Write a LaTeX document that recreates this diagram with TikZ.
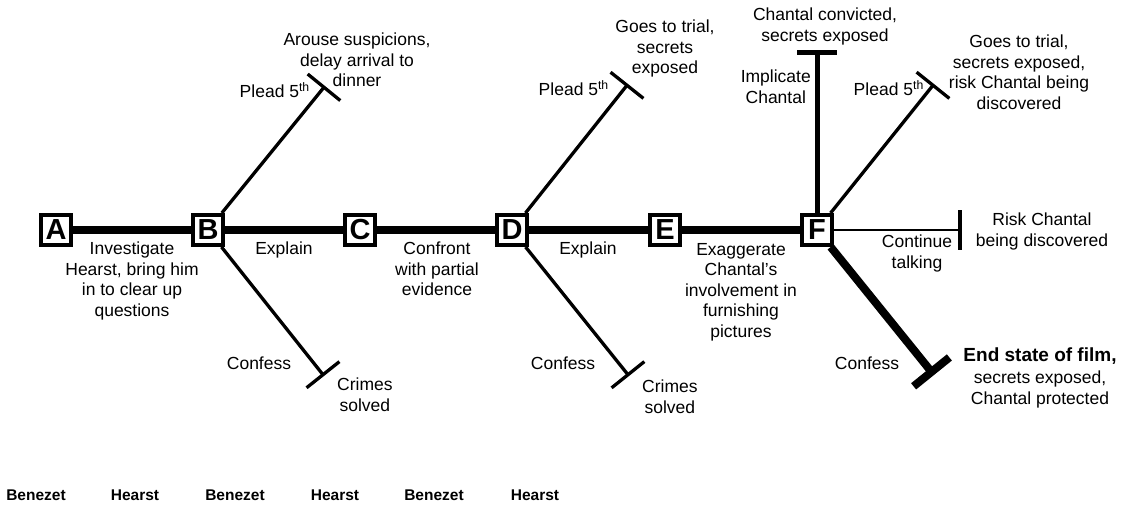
\documentclass[tikz,border=0pt]{standalone}
\usepackage{fontspec}
\setmainfont{Liberation Sans}
\usetikzlibrary{arrows.meta}

\begin{document}
\begin{tikzpicture}[x=1pt, y=-1pt,
  stagebox/.style={draw, line width=4pt, fill=white, minimum size=30pt, inner sep=0pt, font=\fontsize{29}{29}\selectfont\bfseries},
  lbl/.style={align=center, inner sep=0pt, font=\fontsize{17.5}{20.5}\selectfont},
  who/.style={inner sep=0pt, anchor=base, font=\fontsize{15.5}{18}\selectfont\bfseries},
  branch/.style={line width=3.3pt, -{Bar[width=42pt]}}]
\useasboundingbox (0,0) rectangle (1124,506);

% decision points
\node[stagebox] (A) at (56,230) {A};
\node[stagebox] (B) at (208,230) {B};
\node[stagebox] (C) at (360,230) {C};
\node[stagebox] (D) at (512,230) {D};
\node[stagebox] (E) at (665,230) {E};
\node[stagebox] (F) at (817,230) {F};

% ends of the branches
\coordinate (bUp) at (325,86);
\coordinate (bDown) at (324,376);
\coordinate (dUp) at (628,84);
\coordinate (dDown) at (629,376);
\coordinate (fUp) at (934,84);
\coordinate (fTop) at (817,50);
\coordinate (fRight) at (962,230);
\coordinate (fDown) at (934,375);

\draw[line width=8pt] (A) -- (B) -- (C) -- (D) -- (E) -- (F);
\draw[branch] (B) -- (bUp);
\draw[branch] (B) -- (bDown);
\draw[branch] (D) -- (dUp);
\draw[branch] (D) -- (dDown);
\draw[branch] (F) -- (fUp);
\draw[line width=5pt, -{Bar[width=40pt, line width=4.5pt]}] (F) -- (fTop);
\draw[line width=2.8pt, -{Bar[width=40pt, line width=4pt]}] (F) -- (fRight);
\draw[line width=8pt, -{Bar[width=46pt]}] (F) -- (fDown);

% labels on the main line
\node[lbl, anchor=north] (lAB) at (132,242) {Investigate\\Hearst, bring him\\in to clear up\\questions};
\node[lbl, anchor=north] (lBC) at (284,242) {Explain};
\node[lbl, anchor=north] (lCD) at (437,242) {Confront\\with partial\\evidence};
\node[lbl, anchor=north] (lDE) at (588,242) {Explain};
\node[lbl, anchor=north] (lEF) at (741,243) {Exaggerate\\Chantal’s\\involvement in\\furnishing\\pictures};

% labels on B
\node[lbl, anchor=north east] (bPlead) at (310,82) {Plead 5\textsuperscript{th}};
\node[lbl, anchor=north] (bArouse) at (357,33) {Arouse suspicions,\\delay arrival to\\dinner};
\node[lbl, anchor=north] (bConfess) at (259,357) {Confess};
\node[lbl, anchor=north west] (bSolved) at (337,378) {Crimes\\solved};

% labels on D
\node[lbl, anchor=north east] (dPlead) at (609,80) {Plead 5\textsuperscript{th}};
\node[lbl, anchor=north] (dTrial) at (665,20) {Goes to trial,\\secrets\\exposed};
\node[lbl, anchor=north] (dConfess) at (563,357) {Confess};
\node[lbl, anchor=north west] (dSolved) at (642,380) {Crimes\\solved};

% labels on F
\node[lbl, anchor=north] (fConvicted) at (825,8) {Chantal convicted,\\secrets exposed};
\node[lbl, anchor=north east] (fImplicate) at (811,70) {Implicate\\Chantal};
\node[lbl, anchor=north east] (fPlead) at (924,80) {Plead 5\textsuperscript{th}};
\node[lbl, anchor=north] (fTrial) at (1019,35) {Goes to trial,\\secrets exposed,\\risk Chantal being\\discovered};
\node[lbl, anchor=north] (fCont) at (917,235) {Continue\\talking};
\node[lbl, anchor=north] (fRisk) at (1042,213) {Risk Chantal\\being discovered};
\node[lbl, anchor=north] (fConfess) at (867,357) {Confess};
\node[lbl, anchor=north] (fEnd) at (1040,348) {{\fontsize{19}{22}\selectfont\bfseries End state of film,}\\[1.5pt]secrets exposed,\\Chantal protected};

% who decides
\node[who] (w1) at (36,500) {Benezet};
\node[who] (w2) at (135,500) {Hearst};
\node[who] (w3) at (235,500) {Benezet};
\node[who] (w4) at (335,500) {Hearst};
\node[who] (w5) at (434,500) {Benezet};
\node[who] (w6) at (535,500) {Hearst};
\end{tikzpicture}
\end{document}
